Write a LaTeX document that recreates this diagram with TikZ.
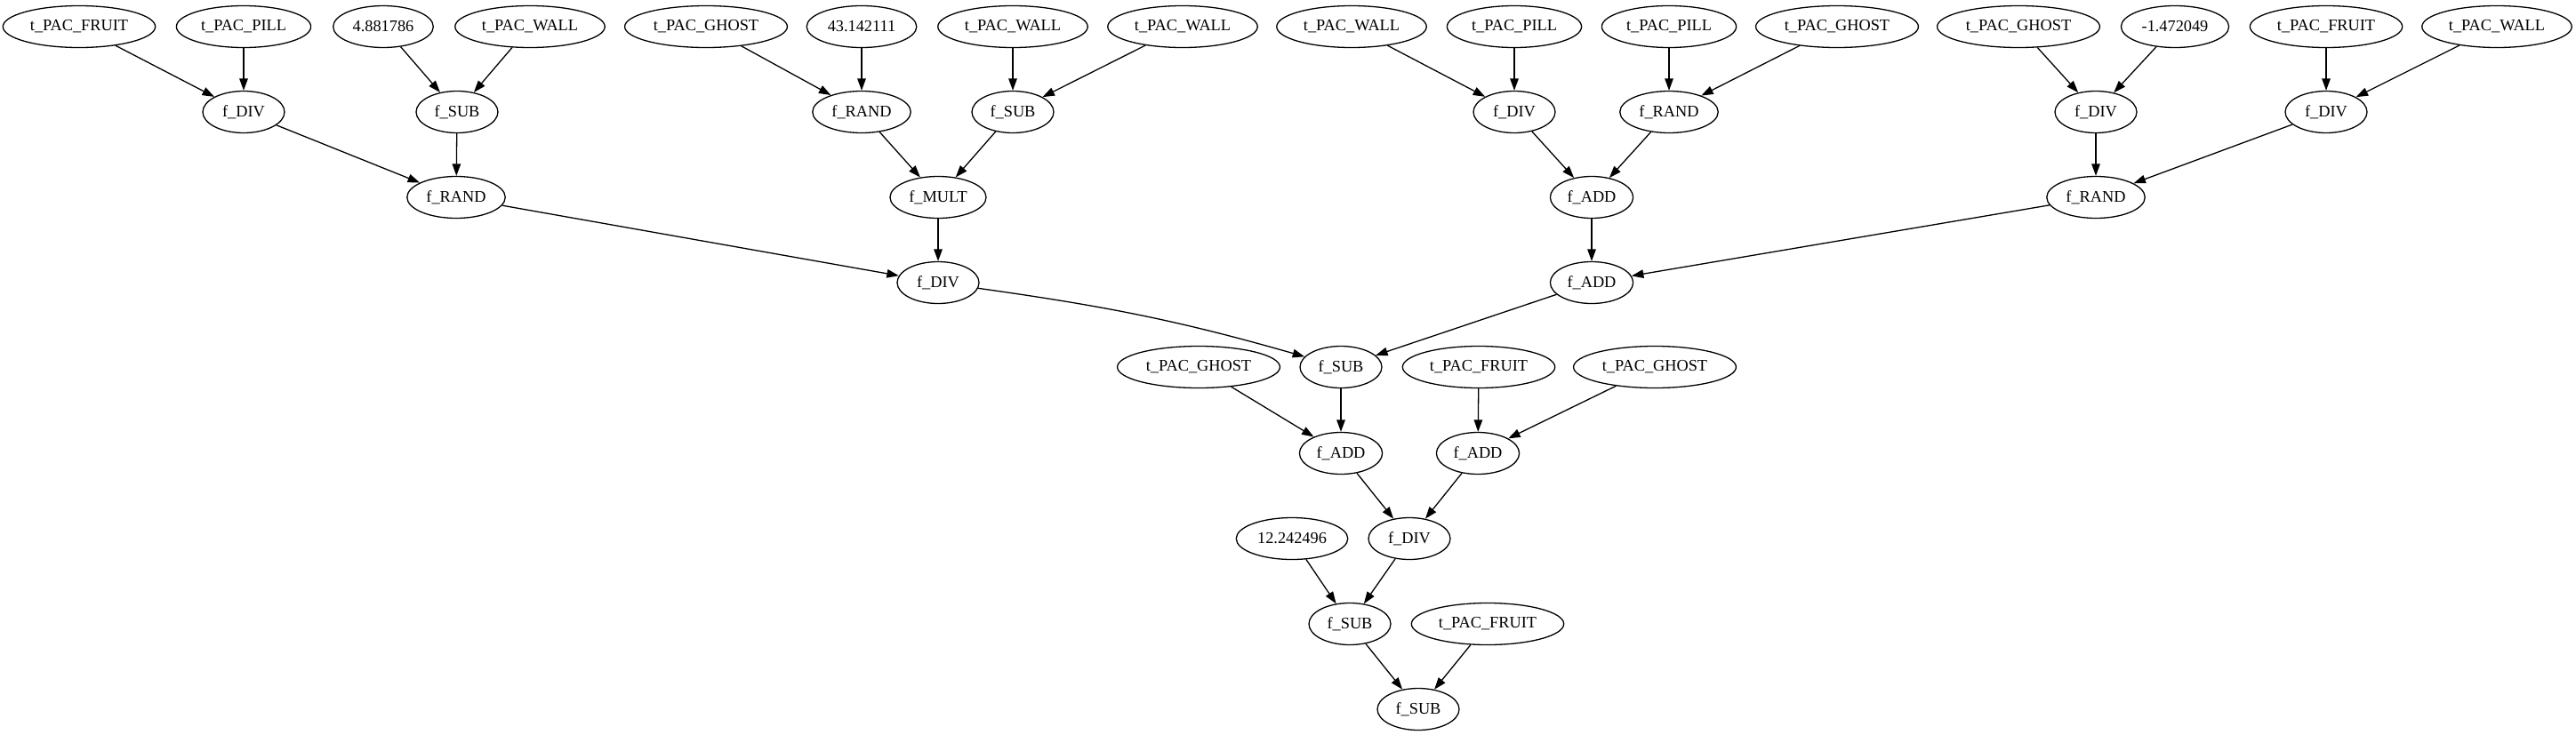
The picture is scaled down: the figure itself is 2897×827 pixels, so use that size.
\documentclass[tikz,border=0pt]{standalone}
\usepackage{fontspec}
\setmainfont{Liberation Serif}
\usetikzlibrary{arrows.meta, shapes.geometric, positioning}

\begin{document}
\begin{tikzpicture}[x=1pt, y=-1pt, >={Triangle[length=13.5pt, width=9.5pt]}]
	\tikzset{%
		gpnode/.style={ellipse, draw=black, line width=1.3pt, inner xsep=5.5pt, minimum width=92pt, minimum height=47pt, font=\fontsize{18.3}{22}\selectfont, text centered},
		gpedge/.style={->, line width=1.3pt}
	}
	\useasboundingbox (0,0) rectangle (2897,827);
	% terminals, top row
	\node[gpnode] (fruit1) at (89,30) {t\_PAC\_FRUIT};
	\node[gpnode] (pill1) at (274,30) {t\_PAC\_PILL};
	\node[gpnode] (num1) at (431,30) {4.881786};
	\node[gpnode] (wall1) at (596,30) {t\_PAC\_WALL};
	\node[gpnode] (ghost1) at (794,30) {t\_PAC\_GHOST};
	\node[gpnode] (num2) at (969,30) {43.142111};
	\node[gpnode] (wall2) at (1139,30) {t\_PAC\_WALL};
	\node[gpnode] (wall3) at (1330,30) {t\_PAC\_WALL};
	\node[gpnode] (wall4) at (1520,30) {t\_PAC\_WALL};
	\node[gpnode] (pill2) at (1703,30) {t\_PAC\_PILL};
	\node[gpnode] (pill3) at (1877,30) {t\_PAC\_PILL};
	\node[gpnode] (ghost2) at (2066,30) {t\_PAC\_GHOST};
	\node[gpnode] (ghost3) at (2270,30) {t\_PAC\_GHOST};
	\node[gpnode] (num3) at (2446,30) {-1.472049};
	\node[gpnode] (fruit2) at (2616,30) {t\_PAC\_FRUIT};
	\node[gpnode] (wall5) at (2808,30) {t\_PAC\_WALL};
	% functions
	\node[gpnode] (div1) at (274,126) {f\_DIV};
	\node[gpnode] (sub1) at (514,126) {f\_SUB};
	\node[gpnode] (rand1) at (969,126) {f\_RAND};
	\node[gpnode] (sub2) at (1139,126) {f\_SUB};
	\node[gpnode] (div2) at (1703,126) {f\_DIV};
	\node[gpnode] (rand2) at (1877,126) {f\_RAND};
	\node[gpnode] (div3) at (2357,126) {f\_DIV};
	\node[gpnode] (div4) at (2616,126) {f\_DIV};
	\node[gpnode] (rand3) at (513,222) {f\_RAND};
	\node[gpnode] (mult1) at (1055,222) {f\_MULT};
	\node[gpnode] (add1) at (1790,222) {f\_ADD};
	\node[gpnode] (rand4) at (2357,222) {f\_RAND};
	\node[gpnode] (div5) at (1055,318) {f\_DIV};
	\node[gpnode] (add2) at (1790,318) {f\_ADD};
	\node[gpnode] (ghost4) at (1348,413) {t\_PAC\_GHOST};
	\node[gpnode] (sub3) at (1508,413) {f\_SUB};
	\node[gpnode] (fruit3) at (1663,413) {t\_PAC\_FRUIT};
	\node[gpnode] (ghost5) at (1861,413) {t\_PAC\_GHOST};
	\node[gpnode] (add3) at (1508,510) {f\_ADD};
	\node[gpnode] (add4) at (1662,510) {f\_ADD};
	\node[gpnode] (num4) at (1453,606) {12.242496};
	\node[gpnode] (div6) at (1585,606) {f\_DIV};
	\node[gpnode] (sub4) at (1518,702) {f\_SUB};
	\node[gpnode] (fruit4) at (1673,702) {t\_PAC\_FRUIT};
	\node[gpnode] (sub5) at (1595,798) {f\_SUB};
	% edges
	\draw[gpedge] (fruit1) -- (div1);
	\draw[gpedge] (pill1) -- (div1);
	\draw[gpedge] (num1) -- (sub1);
	\draw[gpedge] (wall1) -- (sub1);
	\draw[gpedge] (ghost1) -- (rand1);
	\draw[gpedge] (num2) -- (rand1);
	\draw[gpedge] (wall2) -- (sub2);
	\draw[gpedge] (wall3) -- (sub2);
	\draw[gpedge] (wall4) -- (div2);
	\draw[gpedge] (pill2) -- (div2);
	\draw[gpedge] (pill3) -- (rand2);
	\draw[gpedge] (ghost2) -- (rand2);
	\draw[gpedge] (ghost3) -- (div3);
	\draw[gpedge] (num3) -- (div3);
	\draw[gpedge] (fruit2) -- (div4);
	\draw[gpedge] (wall5) -- (div4);
	\draw[gpedge] (div1) -- (rand3);
	\draw[gpedge] (sub1) -- (rand3);
	\draw[gpedge] (rand1) -- (mult1);
	\draw[gpedge] (sub2) -- (mult1);
	\draw[gpedge] (div2) -- (add1);
	\draw[gpedge] (rand2) -- (add1);
	\draw[gpedge] (div3) -- (rand4);
	\draw[gpedge] (div4) -- (rand4);
	\draw[gpedge] (rand3) -- (div5);
	\draw[gpedge] (mult1) -- (div5);
	\draw[gpedge] (add1) -- (add2);
	\draw[gpedge] (rand4) -- (add2);
	\draw[gpedge] (div5) to[out=-8, in=164] (sub3);
	\draw[gpedge] (add2) -- (sub3);
	\draw[gpedge] (ghost4) -- (add3);
	\draw[gpedge] (sub3) -- (add3);
	\draw[gpedge] (fruit3) -- (add4);
	\draw[gpedge] (ghost5) -- (add4);
	\draw[gpedge] (add3) -- (div6);
	\draw[gpedge] (add4) -- (div6);
	\draw[gpedge] (num4) -- (sub4);
	\draw[gpedge] (div6) -- (sub4);
	\draw[gpedge] (sub4) -- (sub5);
	\draw[gpedge] (fruit4) -- (sub5);
\end{tikzpicture}
\end{document}
